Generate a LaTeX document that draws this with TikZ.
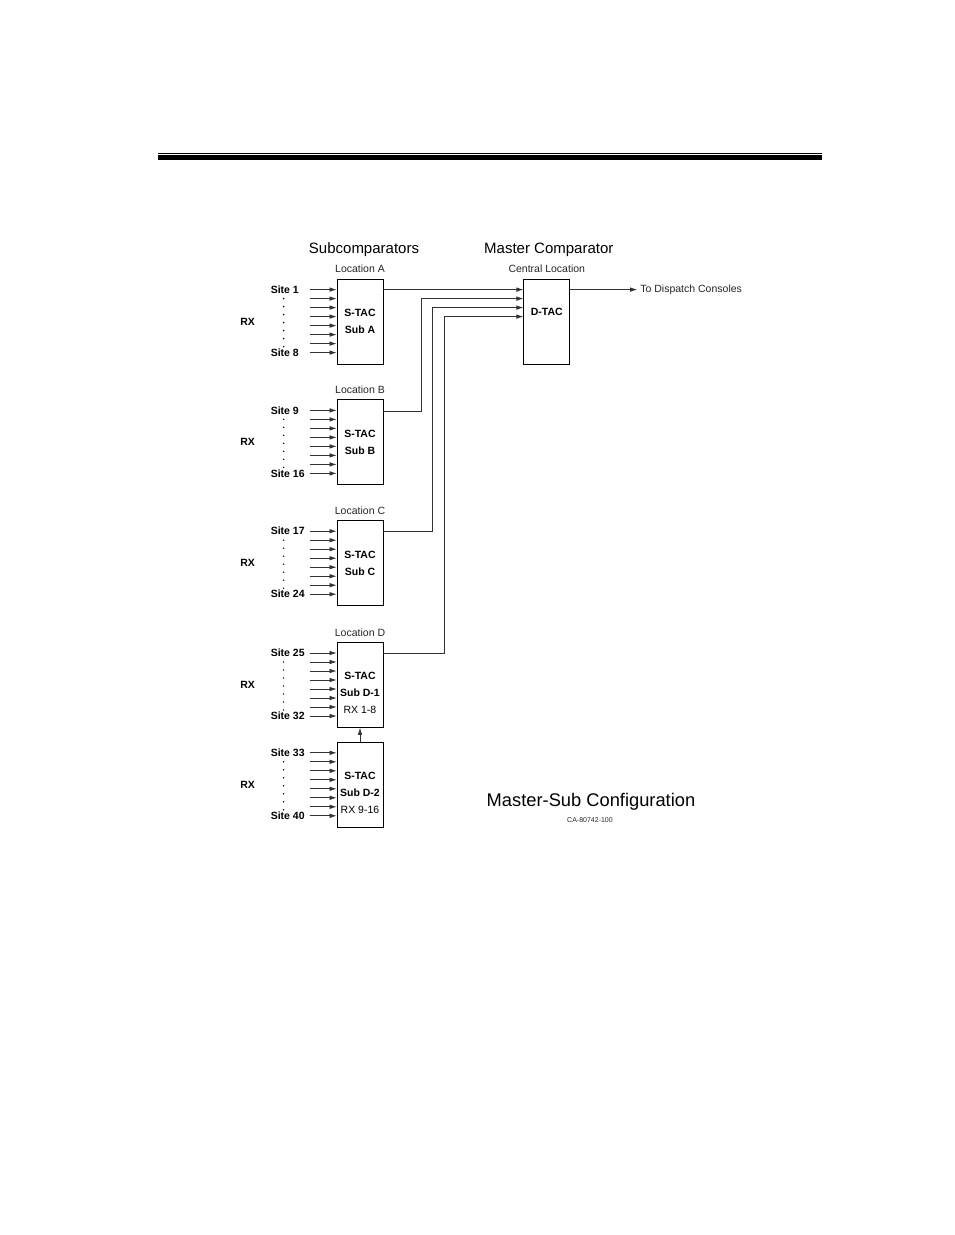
\documentclass[tikz,border=0pt]{standalone}
\usepackage{fontspec}
\setmainfont{Liberation Sans}
\usetikzlibrary{positioning,arrows.meta}

\tikzset{
  subbox/.style={draw, line width=0.8pt, minimum width=46pt, minimum height=85pt, inner sep=0pt},
  boxtext/.style={align=center, inner sep=0pt, font=\fontsize{10.5}{17}\selectfont\bfseries},
  lbl/.style={font=\fontsize{10.5}{12}\selectfont, text=black!85},
  site/.style={anchor=west, inner sep=0pt, font=\fontsize{10.5}{12}\selectfont\bfseries},
  title/.style={anchor=base, inner sep=0pt, font=\fontsize{15}{18}\selectfont},
  wire/.style={draw=black!80, line width=0.7pt},
  feed/.style={wire, -{Latex[length=7pt,width=4.5pt]}},
}

\begin{document}
\begin{tikzpicture}[x=1pt,y=-1pt]
  \useasboundingbox[fill=white] (0,0) rectangle (954,1235);

  % heading rule
  \fill (158,152.5) rectangle (822,153.6);
  \fill (158,155) rectangle (822,160);

  % subcomparators
  \node[subbox] (A) at (360,321.5) {};
  \node[subbox] (B) [below=35pt of A] {};
  \node[subbox] (C) [below=35pt of B] {};
  \node[subbox] (D1) [below=36pt of C] {};
  \node[subbox] (D2) [below=14pt of D1] {};
  \node[subbox, anchor=north west] (dtac) at ([xshift=140pt]A.north east) {};

  \node[boxtext] (A-text) at (A) {S-TAC\\Sub A};
  \node[boxtext] (B-text) at (B) {S-TAC\\Sub B};
  \node[boxtext] (C-text) at (C) {S-TAC\\Sub C};
  \node[boxtext] (D1-text) at ([yshift=-8pt]D1.center) {S-TAC\\Sub D-1\\\mdseries RX 1-8};
  \node[boxtext] (D2-text) at ([yshift=-8pt]D2.center) {S-TAC\\Sub D-2\\\mdseries RX 9-16};
  \node[boxtext, anchor=center] (dtac-text) at ([yshift=-33pt]dtac.north) {D-TAC};

  % headings
  \node[title] (subs) at ([yshift=25pt,xshift=4pt]A.north) {Subcomparators};
  \node[title] (master) at ([yshift=25pt,xshift=2pt]dtac.north) {Master Comparator};
  \node[lbl, anchor=base] (locA) at ([yshift=6pt]A.north) {Location A};
  \node[lbl, anchor=base] (locB) at ([yshift=6pt]B.north) {Location B};
  \node[lbl, anchor=base] (locC) at ([yshift=6pt]C.north) {Location C};
  \node[lbl, anchor=base] (locD) at ([yshift=6pt]D1.north) {Location D};
  \node[lbl, anchor=base] (central) at ([yshift=6pt]dtac.north) {Central Location};

  % receiver inputs
  \foreach \sub/\first/\last in {A/1/8, B/9/16, C/17/24, D1/25/32, D2/33/40} {
    \foreach \i in {0,...,7} {
      \pgfmathsetmacro{\dy}{-(11+9*\i)}
      \draw[feed] ([xshift=-27pt,yshift=\dy pt]\sub.north west) -- ([yshift=\dy pt]\sub.north west);
    }
    \foreach \k in {0,...,6} {
      \pgfmathsetmacro{\dy}{-(20+8*\k)}
      \fill ([xshift=-53pt,yshift=\dy pt]\sub.north west) circle (0.8pt);
    }
    \node[site] (\sub-first) at ([xshift=-66pt,yshift=-11pt]\sub.north west) {Site \first};
    \node[site] (\sub-last) at ([xshift=-66pt,yshift=-74pt]\sub.north west) {Site \last};
    \node[site, anchor=center] (\sub-rx) at ([xshift=-89pt]\sub.west) {RX};
  }

  % links to the master
  \coordinate (A-out) at ([yshift=-11pt]A.north east);
  \coordinate (B-out) at ([yshift=-12pt]B.north east);
  \coordinate (C-out) at ([yshift=-11pt]C.north east);
  \coordinate (D1-out) at ([yshift=-11pt]D1.north east);
  \coordinate (dtac-in1) at ([yshift=-11pt]dtac.north west);
  \coordinate (dtac-in2) at ([yshift=-20pt]dtac.north west);
  \coordinate (dtac-in3) at ([yshift=-29pt]dtac.north west);
  \coordinate (dtac-in4) at ([yshift=-38pt]dtac.north west);
  \coordinate (dtac-out) at ([yshift=-11pt]dtac.north east);

  \draw[feed] (A-out) -- (dtac-in1);
  \draw[feed] (B-out) -- ++(38,0) |- (dtac-in2);
  \draw[feed] (C-out) -- ++(49,0) |- (dtac-in3);
  \draw[feed] (D1-out) -- ++(61,0) |- (dtac-in4);
  \draw[feed] (D2.north) -- (D1.south);

  \node[lbl, right=67pt of dtac-out, inner sep=3pt] (consoles) {To Dispatch Consoles};
  \draw[feed] (dtac-out) -- (consoles.west);

  % caption
  \node[inner sep=0pt, font=\fontsize{18.3}{20}\selectfont] (caption) at (591,802) {Master-Sub Configuration};
  \node[inner sep=0pt, font=\fontsize{7}{8}\selectfont, text=black!85] (drawno) at (590,820) {CA-80742-100};
\end{tikzpicture}
\end{document}
